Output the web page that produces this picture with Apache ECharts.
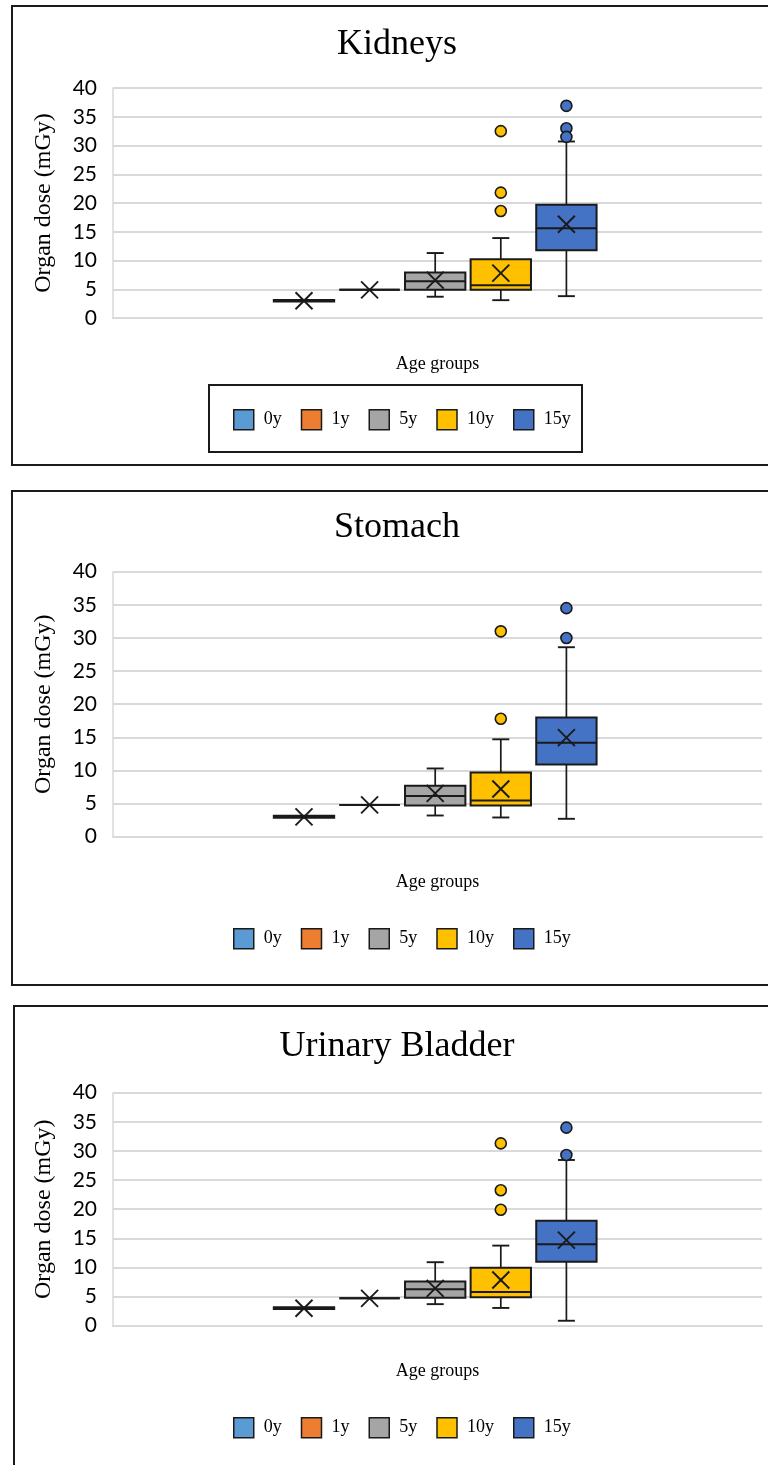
<!DOCTYPE html>
<html>
<head>
<meta charset="utf-8">
<title>Organ dose by age group</title>
<script src="https://cdn.jsdelivr.net/npm/echarts@6.0.0/dist/echarts.min.js"></script>
<style>
  html, body { margin: 0; padding: 0; background: #fff; }
  #chart { width: 768px; height: 1465px; }
</style>
</head>
<body>
<div id="chart"></div>
<script>
// Age groups shown in every panel
const ageGroups = ['0y', '1y', '5y', '10y', '15y'];

// Y axis ticks (mGy)
const doseMin = 0;
const doseMax = 40;
const doseStep = 5;

// Box statistics per age group: [min whisker, Q1, median, Q3, max whisker]
const kidneysBox = [
  [2.85, 2.85, 3.0, 3.15, 3.15],
  [4.9, 4.9, 4.9, 4.9, 4.9],
  [3.7, 4.9, 6.4, 7.9, 11.3],
  [3.1, 4.9, 5.7, 10.2, 13.9],
  [3.8, 11.8, 15.6, 19.7, 30.7]
];
const kidneysMean = [3.0, 4.9, 6.6, 7.8, 16.3];
const kidneysOutliers = [[], [], [], [32.5, 21.8, 18.6], [36.9, 33.0, 31.5]];

const stomachBox = [
  [2.85, 2.85, 3.0, 3.15, 3.15],
  [4.8, 4.8, 4.8, 4.8, 4.8],
  [3.2, 4.7, 6.15, 7.7, 10.3],
  [2.9, 4.7, 5.45, 9.7, 14.7],
  [2.7, 10.9, 14.2, 18.0, 28.6]
];
const stomachMean = [3.0, 4.8, 6.55, 7.2, 14.95];
const stomachOutliers = [[], [], [], [31.0, 17.8], [34.5, 30.0]];

const bladderBox = [
  [2.85, 2.85, 3.0, 3.15, 3.15],
  [4.7, 4.7, 4.7, 4.7, 4.7],
  [3.7, 4.8, 6.25, 7.6, 10.9],
  [3.05, 4.9, 5.8, 9.95, 13.75],
  [0.85, 11.0, 14.0, 18.0, 28.45]
];
const bladderMean = [3.0, 4.7, 6.4, 7.85, 14.7];
const bladderOutliers = [[], [], [], [31.3, 23.25, 19.9], [34.0, 29.3]];

const organTitles = ['Kidneys', 'Stomach', 'Urinary Bladder'];
const organBoxes = [kidneysBox, stomachBox, bladderBox];
const organMeans = [kidneysMean, stomachMean, bladderMean];
const organOutliers = [kidneysOutliers, stomachOutliers, bladderOutliers];

// ---- styling / layout ----
const ageColors = ['#5B9BD5', '#ED7D31', '#A5A5A5', '#FFC000', '#4472C4'];
const INK = '#1a1a1a';
const SERIF = '"Liberation Serif", "Times New Roman", serif';
const SANS = 'Lato, "Open Sans", sans-serif';

const panelLayout = [
  { frame: [12, 6, 772, 459], titleY: 45, top: 88, bottom: 318, legendTop: 409, legendFrame: [209, 385, 373, 67] },
  { frame: [12, 491, 772, 494], titleY: 528, top: 571.7, bottom: 836.7, legendTop: 928, legendFrame: null },
  { frame: [14, 1006, 772, 480], titleY: 1047, top: 1092.7, bottom: 1325.7, legendTop: 1417, legendFrame: null }
];
const plotLeft = 113, plotRight = 762;
const boxLeft = 271.2, boxRight = 599.2;

function renderBox(params, api) {
  const idx = api.value(0);
  const vMin = api.value(1), q1 = api.value(2), med = api.value(3), q3 = api.value(4), vMax = api.value(5), mean = api.value(6);
  const y = v => api.coord([idx, v])[1];
  const cx = api.coord([idx, med])[0];
  const half = api.size([1, 0])[0] * 0.46;
  const cap = 8.5, cross = 8.5;
  const seg = (x1, y1, x2, y2, w) => ({ type: 'line', shape: { x1, y1, x2, y2 }, style: { stroke: INK, lineWidth: w } });
  const children = [];
  if (vMax > q3) {
    children.push(seg(cx, y(vMax), cx, y(q3), 1.7));
    children.push(seg(cx - cap, y(vMax), cx + cap, y(vMax), 1.9));
  }
  if (vMin < q1) {
    children.push(seg(cx, y(q1), cx, y(vMin), 1.7));
    children.push(seg(cx - cap, y(vMin), cx + cap, y(vMin), 1.9));
  }
  children.push({
    type: 'rect',
    shape: { x: cx - half, y: y(q3), width: half * 2, height: y(q1) - y(q3) },
    style: { fill: api.visual('color'), stroke: INK, lineWidth: 2 }
  });
  children.push(seg(cx - half, y(med), cx + half, y(med), 2));
  const ym = y(mean);
  children.push(seg(cx - cross, ym - cross, cx + cross, ym + cross, 1.9));
  children.push(seg(cx - cross, ym + cross, cx + cross, ym - cross, 1.9));
  return { type: 'group', children };
}

const grid = [], xAxis = [], yAxis = [], series = [], legend = [], graphic = [];

panelLayout.forEach((L, p) => {
  const height = L.bottom - L.top;
  // frame and title
  graphic.push({ type: 'rect', shape: { x: L.frame[0], y: L.frame[1], width: L.frame[2], height: L.frame[3] },
    style: { fill: 'none', stroke: INK, lineWidth: 2 }, silent: true, z: 0 });
  graphic.push({ type: 'text', x: 397, y: L.titleY,
    style: { text: organTitles[p], font: '36px ' + SERIF, fill: '#000', textAlign: 'center', textVerticalAlign: 'middle' } });
  if (L.legendFrame) {
    graphic.push({ type: 'rect', shape: { x: L.legendFrame[0], y: L.legendFrame[1], width: L.legendFrame[2], height: L.legendFrame[3] },
      style: { fill: 'none', stroke: INK, lineWidth: 2 }, silent: true });
  }

  // full-width plot (axes + gridlines)
  grid.push({ left: plotLeft, width: plotRight - plotLeft, top: L.top, height: height });
  // narrower grid holding the five boxes
  grid.push({ left: boxLeft, width: boxRight - boxLeft, top: L.top, height: height });

  xAxis.push({
    type: 'category', gridIndex: 2 * p, data: [''],
    name: 'Age groups', nameLocation: 'middle', nameGap: 37,
    nameTextStyle: { fontFamily: SERIF, fontSize: 18, color: '#000' },
    axisLine: { show: true, lineStyle: { color: '#d9d9d9', width: 2 } },
    axisTick: { show: false }, axisLabel: { show: false }
  });
  xAxis.push({
    type: 'category', gridIndex: 2 * p + 1, data: ageGroups,
    axisLine: { show: false }, axisTick: { show: false }, axisLabel: { show: false }, splitLine: { show: false }
  });
  yAxis.push({
    type: 'value', gridIndex: 2 * p, min: doseMin, max: doseMax, interval: doseStep,
    name: 'Organ dose (mGy)', nameLocation: 'middle', nameRotate: 90, nameGap: 57,
    nameTextStyle: { fontFamily: SERIF, fontSize: 24, color: '#000' },
    axisLine: { show: true, lineStyle: { color: '#d9d9d9', width: 1.5 } },
    axisTick: { show: false },
    axisLabel: { fontFamily: SANS, fontSize: 21, color: '#000', margin: 16 },
    splitLine: { lineStyle: { color: '#d9d9d9', width: 2 } }
  });
  yAxis.push({
    type: 'value', gridIndex: 2 * p + 1, min: doseMin, max: doseMax, interval: doseStep,
    axisLine: { show: false }, axisTick: { show: false }, axisLabel: { show: false }, splitLine: { show: false }
  });

  ageGroups.forEach((age, i) => {
    const b = organBoxes[p][i];
    series.push({
      type: 'custom', name: age, xAxisIndex: 2 * p + 1, yAxisIndex: 2 * p + 1,
      itemStyle: { color: ageColors[i], borderColor: INK, borderWidth: 1.5 },
      encode: { x: 0, y: [1, 2, 3, 4, 5, 6] },
      renderItem: renderBox,
      data: [[i, b[0], b[1], b[2], b[3], b[4], organMeans[p][i]]],
      z: 3
    });
    const outs = organOutliers[p][i];
    if (outs.length) {
      series.push({
        type: 'scatter', name: age, xAxisIndex: 2 * p + 1, yAxisIndex: 2 * p + 1,
        symbol: 'circle', symbolSize: 11,
        itemStyle: { color: ageColors[i], borderColor: INK, borderWidth: 1.6, opacity: 1 },
        data: outs.map(v => [i, v]),
        z: 4
      });
    }
  });

  legend.push({
    data: ageGroups, left: 233, top: L.legendTop, padding: 0,
    icon: 'rect', itemWidth: 20, itemHeight: 20, itemGap: 19,
    itemStyle: { borderColor: INK, borderWidth: 1.5 },
    textStyle: { fontFamily: SERIF, fontSize: 18, color: '#000', padding: [0, 0, 0, 5] },
    selectedMode: false
  });
});

const chart = echarts.init(document.getElementById('chart'), null, { renderer: 'canvas', width: 768, height: 1465 });
chart.setOption({
  animation: false,
  backgroundColor: '#fff',
  graphic, grid, xAxis, yAxis, series, legend,
  tooltip: { show: false }
});
</script>
</body>
</html>
